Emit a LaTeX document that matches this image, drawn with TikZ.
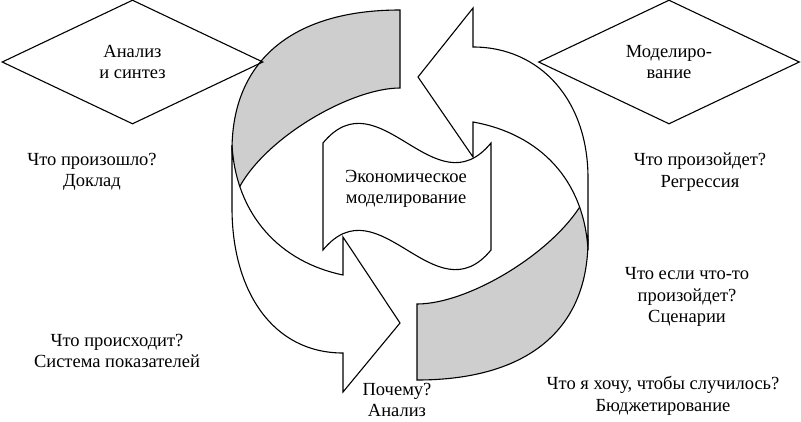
\documentclass[tikz,border=0pt]{standalone}
\usepackage{fontspec}
\setmainfont{Liberation Serif}
\usetikzlibrary{shapes.geometric}
\definecolor{ribbongray}{RGB}{206,206,206}
\begin{document}
\begin{tikzpicture}[x=1pt,y=-1pt,
  ribbon/.style={draw=black, line width=1.1pt, line join=miter},
  backside/.style={ribbon, fill=ribbongray},
  frontside/.style={ribbon, fill=white},
  lbl/.style={font=\fontsize{18.5}{21.5}\selectfont, align=center, inner sep=0pt},
  dia/.style={shape=diamond, draw, line width=1.1pt, minimum width=261pt, minimum height=124pt, inner sep=0pt}]
\useasboundingbox (0,0) rectangle (801,421);
\fill[white] (0,0) rectangle (801,421);

% left arrow: back (gray) part
\draw[backside] (400,10) .. controls (291,10) and (232,62) .. (232,150)
   -- (236,194) .. controls (260,140) and (350,88) .. (400,88) -- cycle;
% left arrow: front (white) part with head pointing right
\draw[frontside] (232,145) -- (232,208) .. controls (232,290) and (272,353) .. (343,353)
   -- (343,392) -- (400,323) -- (343,237) -- (343,275)
   .. controls (280,262) and (236,215) .. (232,145) -- cycle;

% right arrow: back (gray) part
\draw[backside] (417,380) .. controls (527,380) and (588,330) .. (588,240)
   -- (585,198) .. controls (558,250) and (470,304) .. (417,304) -- cycle;
% right arrow: front (white) part with head pointing left
\draw[frontside] (588,250) -- (588,178) .. controls (588,100) and (540,47) .. (473,47)
   -- (473,8) -- (418,77) -- (473,157) -- (473,122)
   .. controls (540,134) and (584,180) .. (588,250) -- cycle;

% central wave banner
\draw[frontside] (323,143) .. controls (379,75) and (435,211) .. (491,143)
   -- (491,250) .. controls (435,318) and (379,182) .. (323,250) -- cycle;
\node[lbl] (econ) at (406,189) {Экономическое\\моделирование};

% diamonds
\node[dia, lbl] (analysis) at (132.5,62) {Анализ\\и синтез};
\node[dia, lbl] (model) at (669,62) {Моделиро-\\вание};

% questions
\node[lbl] (q1) at (92,172) {Что произошло?\\Доклад};
\node[lbl] (q2) at (117,351) {Что происходит?\\Система показателей};
\node[lbl] (q3) at (397,400) {Почему?\\Анализ};
\node[lbl] (q4) at (700,172) {Что произойдет?\\Регрессия};
\node[lbl] (q5) at (687,297) {Что если что-то\\произойдет?\\Сценарии};
\node[lbl] (q6) at (663,396) {Что я хочу, чтобы случилось?\\Бюджетирование};
\end{tikzpicture}
\end{document}
